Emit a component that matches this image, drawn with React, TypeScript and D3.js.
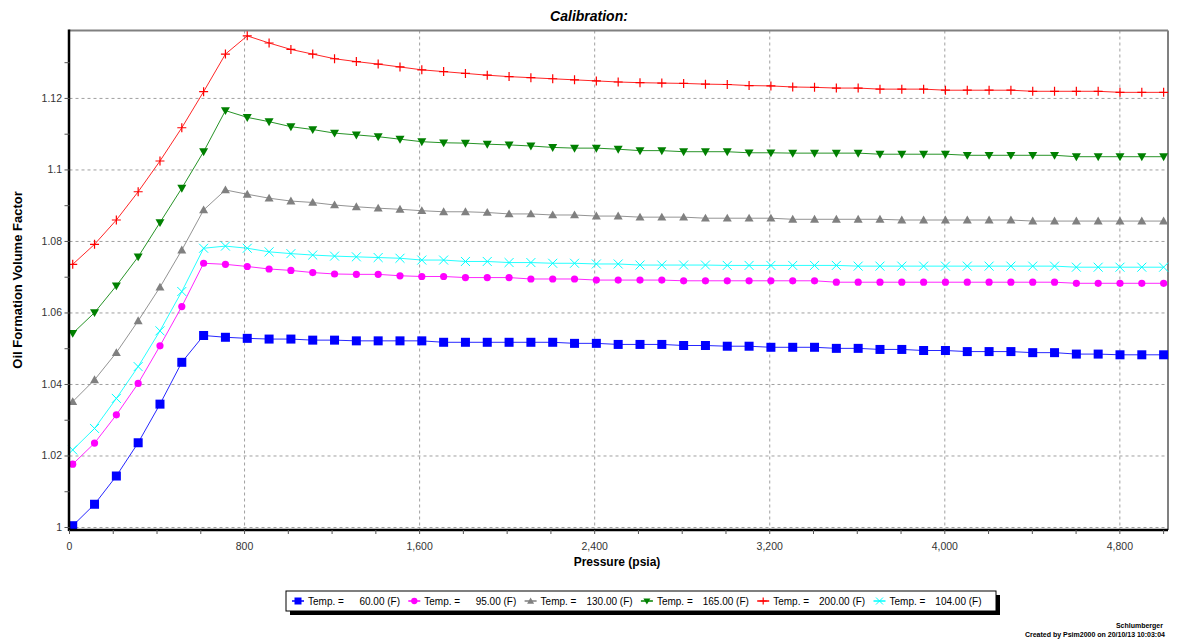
import React from "react";
import * as d3 from "d3";

const pressures = [
  14.7, 114.4, 214.1, 313.8, 413.5, 513.2, 612.9, 712.6, 812.3, 912.1,
  1011.8, 1111.5, 1211.2, 1310.9, 1410.6, 1510.3, 1610.0, 1709.7, 1809.4, 1909.1,
  2008.8, 2108.5, 2208.2, 2307.9, 2407.6, 2507.4, 2607.1, 2706.8, 2806.5, 2906.2,
  3005.9, 3105.6, 3205.3, 3305.0, 3404.7, 3504.4, 3604.1, 3703.8, 3803.5, 3903.2,
  4002.9, 4102.7, 4202.4, 4302.1, 4401.8, 4501.5, 4601.2, 4700.9, 4800.6, 4900.3,
  5000.0,
];

const bo60 = [
  1.0005, 1.0065, 1.0144, 1.0237, 1.0345, 1.0462, 1.0537, 1.0532, 1.0529, 1.0527,
  1.0527, 1.0524, 1.0524, 1.0522, 1.0522, 1.0522, 1.0522, 1.0518, 1.0518, 1.0518,
  1.0518, 1.0518, 1.0518, 1.0515, 1.0515, 1.0512, 1.0512, 1.0512, 1.0509, 1.0509,
  1.0507, 1.0507, 1.0504, 1.0504, 1.0504, 1.0501, 1.0501, 1.0498, 1.0498, 1.0495,
  1.0495, 1.0492, 1.0492, 1.0492, 1.0489, 1.0489, 1.0485, 1.0485, 1.0483, 1.0483,
  1.0483,
];

const bo95 = [
  1.0177, 1.0236, 1.0315, 1.0403, 1.0508, 1.0618, 1.0739, 1.0736, 1.073, 1.0723,
  1.0719, 1.0713, 1.0709, 1.0708, 1.0708, 1.0704, 1.0702, 1.0702, 1.0699, 1.0699,
  1.0699, 1.0695, 1.0695, 1.0695, 1.0692, 1.0692, 1.0692, 1.0692, 1.069, 1.069,
  1.069, 1.069, 1.069, 1.069, 1.069, 1.0686, 1.0686, 1.0686, 1.0686, 1.0686,
  1.0686, 1.0686, 1.0686, 1.0686, 1.0686, 1.0686, 1.0683, 1.0683, 1.0683, 1.0683,
  1.0683,
];

const bo130 = [
  1.0352, 1.0413, 1.0489, 1.0578, 1.0672, 1.0776, 1.0888, 1.0944, 1.0932, 1.0921,
  1.0913, 1.0909, 1.0902, 1.0897, 1.0893, 1.089, 1.0886, 1.0883, 1.0883, 1.0881,
  1.0877, 1.0877, 1.0874, 1.0874, 1.0871, 1.0871, 1.0868, 1.0868, 1.0868, 1.0865,
  1.0865, 1.0865, 1.0865, 1.0862, 1.0862, 1.0862, 1.0862, 1.0862, 1.086, 1.086,
  1.086, 1.086, 1.086, 1.086, 1.0857, 1.0857, 1.0857, 1.0857, 1.0857, 1.0857,
  1.0857,
];

const bo165 = [
  1.0543, 1.0601, 1.0676, 1.0757, 1.0853, 1.0949, 1.1051, 1.1166, 1.1147, 1.1135,
  1.1121, 1.1113, 1.1103, 1.1098, 1.1093, 1.1086, 1.1079, 1.1076, 1.1075, 1.1072,
  1.107, 1.1067, 1.1063, 1.1061, 1.1061, 1.1058, 1.1054, 1.1054, 1.1051, 1.1051,
  1.1051, 1.1048, 1.1048, 1.1047, 1.1047, 1.1047, 1.1047, 1.1044, 1.1044, 1.1044,
  1.1044, 1.1041, 1.1041, 1.1041, 1.1041, 1.1041, 1.1037, 1.1037, 1.1037, 1.1037,
  1.1037,
];

const bo200 = [
  1.0736, 1.0792, 1.086, 1.0939, 1.1025, 1.1118, 1.1219, 1.1324, 1.1375, 1.1355,
  1.1337, 1.1324, 1.1311, 1.1303, 1.1296, 1.1288, 1.128, 1.1275, 1.127, 1.1265,
  1.1261, 1.1258, 1.1255, 1.1252, 1.1249, 1.1246, 1.1244, 1.1243, 1.1242, 1.124,
  1.1239, 1.1236, 1.1235, 1.1232, 1.1231, 1.1229, 1.1229, 1.1226, 1.1226, 1.1226,
  1.1223, 1.1223, 1.1223, 1.1223, 1.122, 1.122, 1.122, 1.122, 1.1217, 1.1217,
  1.1217,
];

const bo104 = [
  1.0217, 1.0277, 1.0361, 1.045, 1.055, 1.066, 1.0781, 1.0787, 1.0781, 1.0771,
  1.0766, 1.0762, 1.0759, 1.0757, 1.0755, 1.0753, 1.0748, 1.0748, 1.0744, 1.0744,
  1.0741, 1.0741, 1.0739, 1.0739, 1.0737, 1.0737, 1.0734, 1.0734, 1.0734, 1.0734,
  1.0733, 1.0733, 1.0733, 1.0733, 1.0733, 1.0733, 1.0731, 1.0731, 1.0731, 1.0731,
  1.0731, 1.0731, 1.0731, 1.0731, 1.0731, 1.0731, 1.0728, 1.0728, 1.0728, 1.0728,
  1.0728,
];

const seriesNames = ["60.00 (F)", "95.00 (F)", "130.00 (F)", "165.00 (F)", "200.00 (F)", "104.00 (F)"];
const seriesValues = [bo60, bo95, bo130, bo165, bo200, bo104];
const seriesColors = ["#0000ff", "#ff00ff", "#808080", "#008000", "#ff0000", "#00ffff"];
const seriesMarkers = ["square", "circle", "triUp", "triDown", "plus", "cross"];

const xTickValues = [0, 800, 1600, 2400, 3200, 4000, 4800];
const xTickLabels = ["0", "800", "1,600", "2,400", "3,200", "4,000", "4,800"];
const yTickValues = [1.0, 1.02, 1.04, 1.06, 1.08, 1.1, 1.12];
const yTickLabels = ["1", "1.02", "1.04", "1.06", "1.08", "1.1", "1.12"];

const FONT = "'Liberation Sans', Arial, sans-serif";

function Marker({ kind, x, y, color, s }: { kind: string; x: number; y: number; color: string; s: number }) {
  const h = s / 2;
  switch (kind) {
    case "square":
      return <rect x={x - h} y={y - h} width={s} height={s} fill={color} />;
    case "circle":
      return <circle cx={x} cy={y} r={h * 0.9} fill={color} />;
    case "triUp":
      return <path d={`M${x},${y - h}L${x + h},${y + h * 0.75}L${x - h},${y + h * 0.75}Z`} fill={color} />;
    case "triDown":
      return <path d={`M${x},${y + h}L${x + h},${y - h * 0.75}L${x - h},${y - h * 0.75}Z`} fill={color} />;
    case "plus":
      return (
        <path d={`M${x - h},${y}H${x + h}M${x},${y - h}V${y + h}`} stroke={color} strokeWidth={1.2} fill="none" />
      );
    case "cross":
      return (
        <path
          d={`M${x - h},${y - h}L${x + h},${y + h}M${x - h},${y + h}L${x + h},${y - h}`}
          stroke={color}
          strokeWidth={1}
          fill="none"
        />
      );
    default:
      return null;
  }
}

export default function App() {
  const W = 1177;
  const H = 644;
  const left = 69.5;
  const right = 1168;
  const top = 30.5;
  const bottom = 530;

  const x = d3.scaleLinear().domain([0, 5020]).range([left, right]);
  const y = d3.scaleLinear().domain([0.9993, 1.139]).range([bottom, top]);

  const line = d3
    .line<[number, number]>()
    .x((d) => x(d[0]))
    .y((d) => y(d[1]));

  const xMinor = d3.range(0, 5001, 200);
  const yMinor = d3.range(1.0, 1.1391, 0.01);

  const legendLeft = 286;
  const legendTop = 591;
  const legendW = 710;
  const legendH = 20;
  const entryW = 116.3;

  return (
    <svg width={W} height={H} style={{ position: "absolute", left: 0, top: 0 }} fontFamily={FONT}>
      <rect x={0} y={0} width={W} height={H} fill="#ffffff" />
      <text x={589} y={21} textAnchor="middle" fontSize={14} fontWeight="bold" fontStyle="italic" fill="#000">
        Calibration:
      </text>

      {/* gridlines */}
      {yTickValues.map((v, i) => (
        <line key={"gy" + i} x1={left} x2={right} y1={y(v)} y2={y(v)} stroke="#a0a0a0" strokeWidth={1} strokeDasharray="3,3" />
      ))}
      {xTickValues.slice(1).map((v, i) => (
        <line key={"gx" + i} x1={x(v)} x2={x(v)} y1={top} y2={bottom} stroke="#a0a0a0" strokeWidth={1} strokeDasharray="3,3" />
      ))}

      {/* frame */}
      <line x1={left} x2={right} y1={top} y2={top} stroke="#808080" strokeWidth={2} />
      <line x1={right} x2={right} y1={top} y2={bottom} stroke="#808080" strokeWidth={2} />

      {/* series */}
      {seriesValues.map((vals, si) => {
        const pts: [number, number][] = pressures.map((p, i) => [p, vals[i]]);
        return (
          <g key={"s" + si}>
            <path d={line(pts) || ""} fill="none" stroke={seriesColors[si]} strokeWidth={1} strokeOpacity={0.85} />
            {pts.map((d, i) => (
              <Marker key={i} kind={seriesMarkers[si]} x={x(d[0])} y={y(d[1])} color={seriesColors[si]} s={si === 1 ? 8 : 9} />
            ))}
          </g>
        );
      })}

      {/* axes */}
      <line x1={left - 1} x2={right} y1={bottom} y2={bottom} stroke="#000" strokeWidth={2.5} />
      <line x1={left - 0.5} x2={left - 0.5} y1={top - 1} y2={bottom + 1} stroke="#000" strokeWidth={2.5} />
      {xMinor.map((v, i) => (
        <line key={"xm" + i} x1={x(v)} x2={x(v)} y1={bottom} y2={bottom + 4} stroke="#555" strokeWidth={1} />
      ))}
      {yMinor.map((v, i) => (
        <line key={"ym" + i} x1={left - 5} x2={left} y1={y(v)} y2={y(v)} stroke="#555" strokeWidth={1} />
      ))}
      {xTickValues.map((v, i) => (
        <text key={"xl" + i} x={x(v)} y={550} textAnchor="middle" fontSize={10.5} fill="#333">
          {xTickLabels[i]}
        </text>
      ))}
      {yTickValues.map((v, i) => (
        <text key={"yl" + i} x={62} y={y(v) + 3.5} textAnchor="end" fontSize={10.5} fill="#333">
          {yTickLabels[i]}
        </text>
      ))}

      <text x={617} y={566} textAnchor="middle" fontSize={12} fontWeight="bold" fill="#000">
        Pressure (psia)
      </text>
      <text
        transform={`translate(22,280) rotate(-90)`}
        textAnchor="middle"
        fontSize={13}
        fontWeight="bold"
        fill="#000"
      >
        Oil Formation Volume Factor
      </text>

      {/* legend */}
      <rect x={legendLeft + 4} y={legendTop + 4} width={legendW} height={legendH} fill="#000" />
      <rect x={legendLeft} y={legendTop} width={legendW} height={legendH} fill="#fff" stroke="#000" strokeWidth={1} />
      {seriesNames.map((name, si) => {
        const cx = legendLeft + 12 + si * entryW;
        const cy = legendTop + 10;
        return (
          <g key={"lg" + si}>
            <line x1={cx - 6} x2={cx + 6} y1={cy} y2={cy} stroke={seriesColors[si]} strokeWidth={1.5} />
            <Marker kind={seriesMarkers[si]} x={cx} y={cy} color={seriesColors[si]} s={7} />
            <text x={cx + 10} y={cy + 3.5} fontSize={10} fill="#000">
              Temp. =
            </text>
            <text x={cx + 102} y={cy + 3.5} fontSize={10} fill="#000" textAnchor="end">
              {name}
            </text>
          </g>
        );
      })}

      <text x={1163} y={628} textAnchor="end" fontSize={7} fontWeight="bold" fill="#000">
        Schlumberger
      </text>
      <text x={1165} y={637} textAnchor="end" fontSize={7} fontWeight="bold" fill="#000">
        Created by Psim2000 on 20/10/13 10:03:04
      </text>
    </svg>
  );
}
